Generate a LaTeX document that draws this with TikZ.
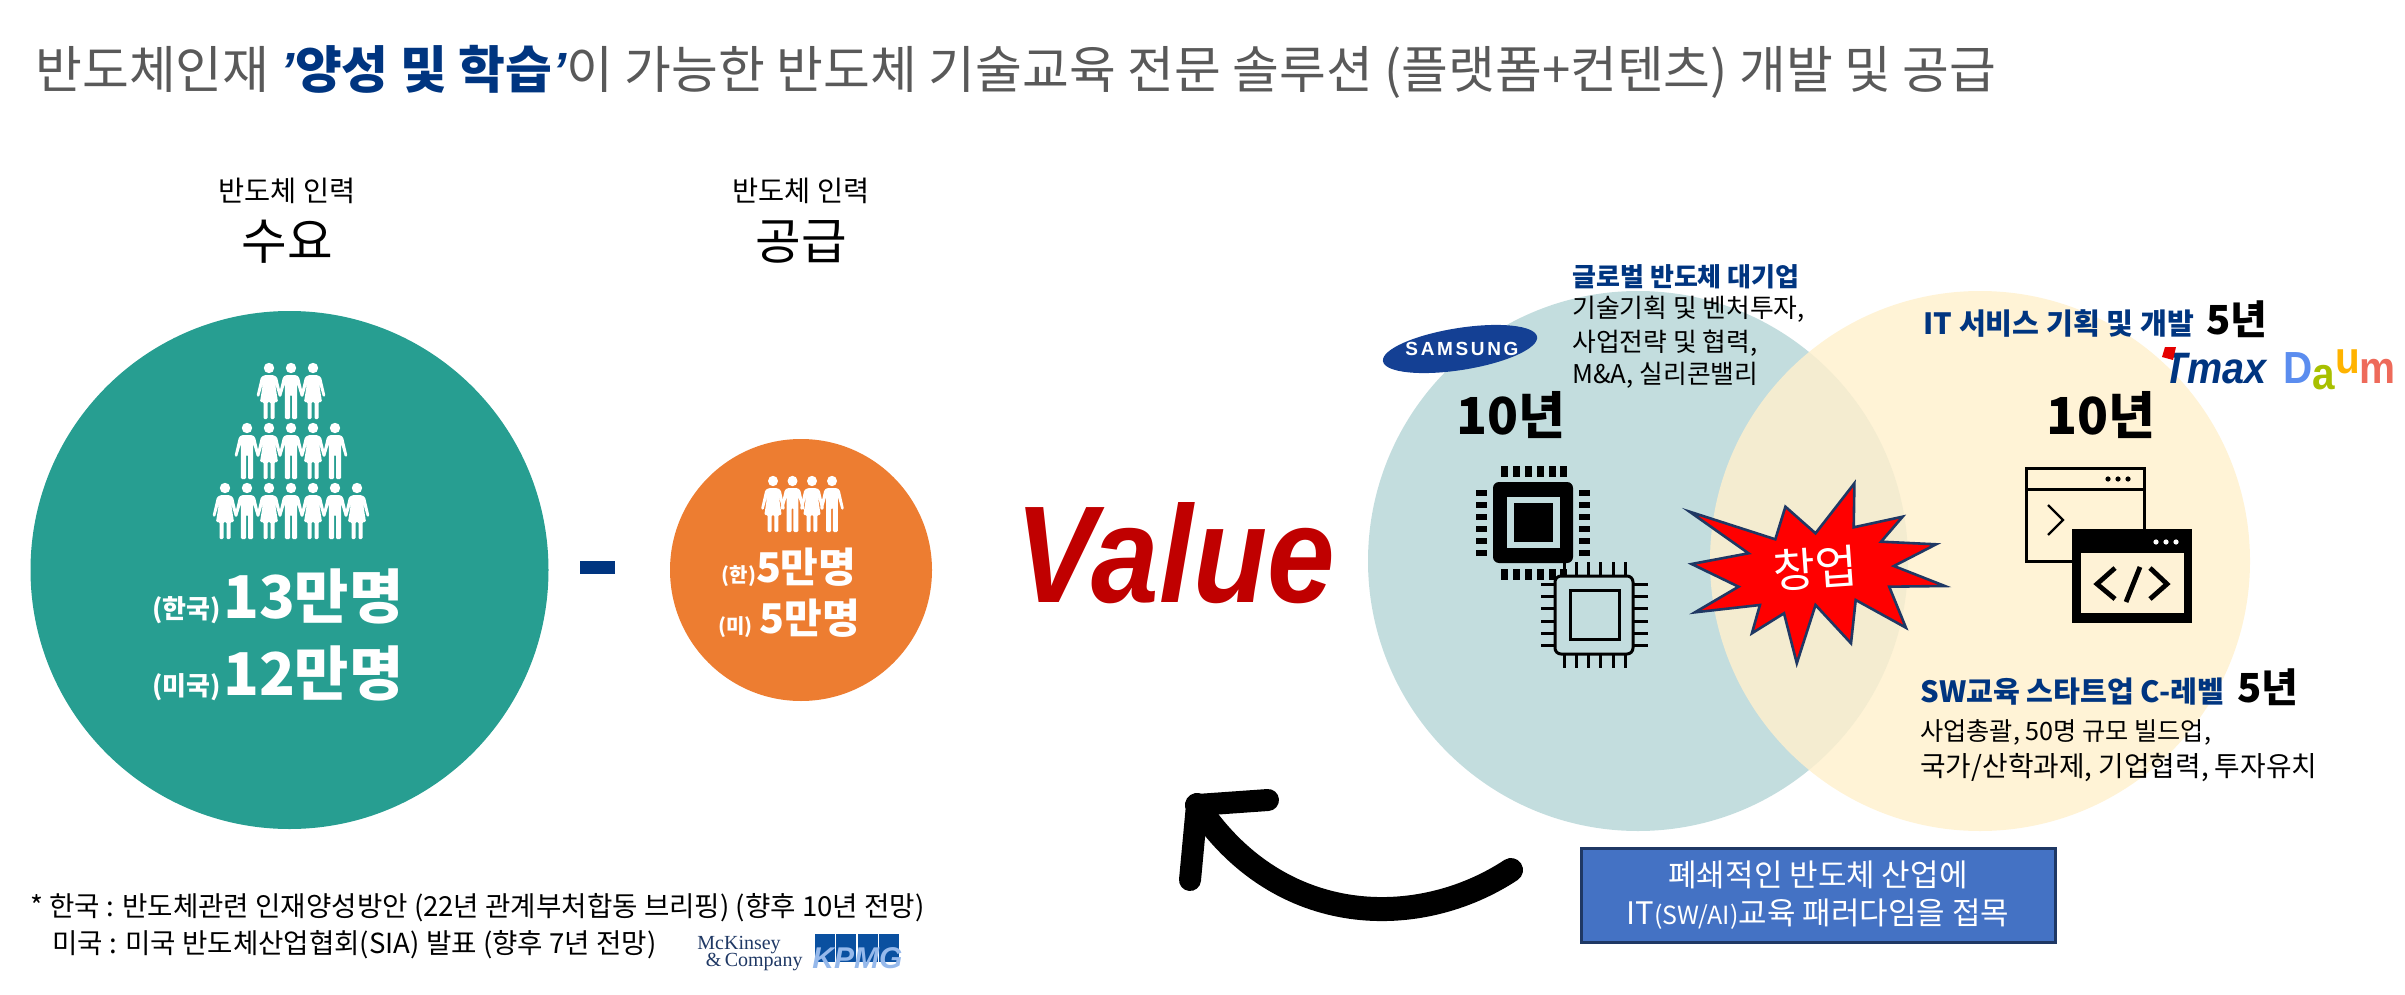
\documentclass[tikz,border=0pt]{standalone}
\usepackage{fontspec}
\setmainfont{Noto Sans CJK KR}
\newfontfamily\latinfont{Liberation Sans}
\newfontfamily\paperfont{Liberation Serif}
\newfontfamily\logofont[LetterSpace=14]{Liberation Sans}
\usetikzlibrary{calc}
\definecolor{greycolor}{RGB}{89,89,89}
\definecolor{navycolor}{RGB}{0,53,128}
\definecolor{tealcolor}{RGB}{39,158,145}
\definecolor{orangecolor}{RGB}{237,125,49}
\definecolor{lightteal}{RGB}{195,221,222}
\definecolor{lightyellow}{RGB}{255,240,205}
\definecolor{chipyellow}{RGB}{254,242,214}
\definecolor{valuecolor}{RGB}{192,0,0}
\definecolor{boxcolor}{RGB}{68,114,196}
\definecolor{boxborder}{RGB}{31,56,100}
\definecolor{samsungblue}{RGB}{20,64,148}
\definecolor{kpmgblue}{RGB}{10,80,160}
\definecolor{kpmglight}{RGB}{150,185,235}
\newcommand{\fs}[1]{\fontsize{#1}{#1}\selectfont}
\tikzset{
  man/.pic={
    \fill[white] (0,0) circle (5.2);
    \fill[white,rounded corners=0.6pt] (-5,7) -- (5,7) -- (8,9) -- (12.5,28) -- (10,29) -- (6.2,16) -- (6,51) -- (1,51) -- (1,27) -- (-1,27) -- (-1,51) -- (-6,51) -- (-6.2,16) -- (-10,29) -- (-12.5,28) -- (-8,9) -- cycle;
  },
  woman/.pic={
    \fill[white] (0,0) circle (5.2);
    \fill[white,rounded corners=0.6pt] (-4,7) -- (4,7) -- (8,9) -- (12.5,28) -- (10,29) -- (6,15) -- (9,34) -- (5.5,34) -- (5.5,51) -- (1.5,51) -- (1.5,34) -- (-1.5,34) -- (-1.5,51) -- (-5.5,51) -- (-5.5,34) -- (-9,34) -- (-6,15) -- (-10,29) -- (-12.5,28) -- (-8,9) -- cycle;
  },
  bluetext/.style={anchor=base west,text=navycolor,font=\fs{14.6}\bfseries,inner sep=0pt},
  plaintext/.style={anchor=base west,text=black,font=\fs{12.9},inner sep=0pt},
  yeartext/.style={anchor=base west,text=black,font=\fs{20}\bfseries,inner sep=0pt},
  bigyear/.style={text=black,font=\fs{25.5}\bfseries,inner sep=0pt},
  headsmall/.style={text=black,font=\fs{14.2},inner sep=0pt},
  headbig/.style={text=black,font=\fs{24.8},inner sep=0pt},
  chipline/.style={draw=black,line width=1.5pt},
}
\begin{document}
\begin{tikzpicture}[x=0.5pt,y=-0.5pt]
\useasboundingbox (0,0) rectangle (2405,995);

\node[anchor=base west,inner sep=0pt,text=greycolor,font=\fs{25.45}] (title) at (35,89) {반도체인재 {\bfseries\color{navycolor}{\latinfont\itshape ’}양성 및 학습{\latinfont\itshape ’}}이 가능한 반도체 기술교육 전문 솔루션 (플랫폼+컨텐츠) 개발 및 공급};

% left side
\node[headsmall] (demandsub) at (287,191) {반도체 인력};
\node[headbig] (demand) at (287,242) {수요};
\node[headsmall] (supplysub) at (801,191) {반도체 인력};
\node[headbig] (supply) at (801,242) {공급};

\fill[tealcolor] (289.5,570) circle (259);
\fill[orangecolor] (801,570) circle (131);
\node[fill=navycolor,minimum width=17.5pt,minimum height=6.5pt,inner sep=0pt] (minus) at (597,567) {};

\foreach \x/\kind in {269/woman,291/man,313/woman}
  \pic at (\x,368) {\kind};
\foreach \x/\kind in {247/man,269/woman,291/man,313/woman,335/man}
  \pic at (\x,428) {\kind};
\foreach \x/\kind in {225/woman,247/man,269/woman,291/man,313/woman,335/man,357/woman}
  \pic at (\x,488) {\kind};
\foreach \x/\kind in {773/woman,792.5/man,812/woman,832/man}
  \pic[xscale=0.96] at (\x,481) {\kind};

\begin{scope}[every node/.style={text=white,inner sep=0pt,anchor=base,font=\fs{29.5}\bfseries}]
\node (kr) at (278,618) {{\fs{13}(한국)}\kern1pt 13만명};
\node (us) at (278,695) {{\fs{13}(미국)}\kern1pt 12만명};
\node[font=\fs{20.5}\bfseries] (krs) at (789,582) {{\fs{10}(한)}5만명};
\node[font=\fs{20.5}\bfseries] (uss) at (789,633) {{\fs{10}(미)}\,5만명};
\end{scope}

\node[inner sep=0pt,text=valuecolor,font=\fs{69}\latinfont\bfseries\itshape,xscale=0.88,transform shape] (value) at (1175,553) {Value};

% venn
\fill[lightteal] (1638,561) circle (270);
\fill[lightyellow,opacity=0.82] (1980,561) circle (270);

\node[bluetext,font=\fs{13}\bfseries] (bigco) at (1572,286) {글로벌 반도체 대기업};
\node[plaintext] (bigco1) at (1572,317) {기술기획 및 벤처투자,};
\node[plaintext] (bigco2) at (1572,351) {사업전략 및 협력,};
\node[plaintext] (bigco3) at (1572,383) {M\&A, 실리콘밸리};

\node[bluetext] (itsvc) at (1923,334) {IT 서비스 기획 및 개발};
\node[yeartext] (itsvcyr) at (2206,334) {5년};
\node[bluetext] (swedu) at (1920,702) {SW교육 스타트업 C-레벨};
\node[yeartext] (sweduyr) at (2237,702) {5년};
\node[plaintext,font=\fs{12.6}] (swedu1) at (1920,740) {사업총괄, 50명 규모 빌드업,};
\node[plaintext,font=\fs{13.9}] (swedu2) at (1920,776) {국가/산학과제, 기업협력, 투자유치};

\node[bigyear] (yearl) at (1511,415) {10년};
\node[bigyear] (yearr) at (2101,415) {10년};

% logos
\fill[samsungblue,rotate around={9:(1460,349)}] (1460,349) ellipse (78 and 21);
\node[text=white,inner sep=0pt,font=\fs{9.5}\logofont\bfseries] (samsung) at (1462,349) {SAMSUNG};

\node[anchor=base west,inner sep=0pt,text=navycolor,font=\fs{22}\latinfont\bfseries\itshape,xscale=0.9,transform shape] (tmax) at (2163,383) {Tmax};
\fill[red!90!black] (2165,347) -- (2176,347) -- (2173,360) -- (2162,357) -- cycle;
\node[anchor=base west,inner sep=0pt,font=\fs{22.5}\latinfont\bfseries,xscale=0.9,transform shape] (daum) at (2283,383) {\color[RGB]{91,141,239}D\raisebox{-3pt}{\color[RGB]{168,192,0}a}\raisebox{5pt}{\color[RGB]{255,179,0}u}\color[RGB]{238,106,90}m};

% filled chip
\foreach \x in {1504,1516,1528,1540,1552,1563} {
  \fill[black] (\x-3.5,466) rectangle (\x+3.5,477);
  \fill[black] (\x-3.5,569) rectangle (\x+3.5,580);
}
\foreach \y in {493,505,517,529,541,553} {
  \fill[black] (1476,\y-3) rectangle (1487,\y+3);
  \fill[black] (1579,\y-3) rectangle (1590,\y+3);
}
\fill[black,rounded corners=3pt] (1493,482) rectangle (1573,563);
\fill[lightteal] (1507,497) rectangle (1560,548);
\fill[black] (1514,503) rectangle (1553,542);

% outline chip
\foreach \x in {1564,1576,1588,1600,1613,1625} {
  \draw[chipline] (\x,562) -- (\x,576);
  \draw[chipline] (\x,654) -- (\x,668);
}
\foreach \y in {584,596,608,621,633,645} {
  \draw[chipline] (1541,\y) -- (1555,\y);
  \draw[chipline] (1633,\y) -- (1648,\y);
}
\draw[chipline,fill=lightteal,rounded corners=3pt] (1555,576) rectangle (1633,654);
\draw[chipline] (1570,590) rectangle (1619,639);

% windows
\draw[chipline] (2026,468) rectangle (2144,561);
\draw[chipline] (2026,489) -- (2144,489);
\foreach \x in {2108,2118,2128}
  \fill[black] (\x,479) circle (2.6);
\draw[chipline,line width=1.2pt] (2048,505) -- (2063,520) -- (2048,535);
\fill[black] (2072,529) rectangle (2192,623);
\fill[chipyellow] (2081,553) rectangle (2184,613);
\foreach \x in {2156,2166,2176}
  \fill[white] (\x,542) circle (2.6);
\begin{scope}[line width=2.4pt]
\draw (2115,568) -- (2097,584) -- (2115,599);
\draw (2150,568) -- (2167,584) -- (2150,599);
\draw (2140,567) -- (2126,602);
\end{scope}

% burst
\draw[fill=red,draw=boxborder,line width=1.3pt,miter limit=10]
  (1854.4,483.3) -- (1853.7,527.3) -- (1902.6,516.7) -- (1881.1,541.7) -- (1936.1,544.3) -- (1893.9,566) -- (1944.8,586) -- (1889.2,586.7) -- (1905.9,627.7) -- (1855.7,600) -- (1851,643.3) -- (1815.5,605) -- (1796.8,663.3) -- (1784,613.3) -- (1751.9,633.3) -- (1759.9,605) -- (1695,612.3) -- (1738.5,586.7) -- (1691.6,564) -- (1748.5,553.3) -- (1689.6,511.7) -- (1775.3,539.3) -- (1785.4,506.7) -- (1815.5,533.3) -- cycle;
\node[text=white,inner sep=0pt,font=\fs{23},rotate=4] (startup) at (1815,568) {창업};

% box and arrow
\node[fill=boxcolor,draw=boxborder,line width=1.5pt,minimum width=237pt,minimum height=47pt,inner sep=0pt,text=white,align=center,font=\fontsize{15.5}{19}\selectfont] (paradigm) at (1818,895) {폐쇄적인 반도체 산업에\\IT{\fs{12.5}(SW/AI)}교육 패러다임을 접목};

\coordinate (tail) at (1511,870);
\coordinate (tip) at (1197,805);
\coordinate (armA) at (1268,800);
\coordinate (armB) at (1190,880);
\draw[line width=12pt,line cap=round] (tail) .. controls (1420,930) and (1280,930) .. (tip);
\draw[line width=11pt,line cap=round,line join=round] (armA) -- (tip) -- (armB);

% footnote
\node[anchor=base west,inner sep=0pt,font=\fs{13.8}] (fn1) at (30,916) {* 한국 : 반도체관련 인재양성방안 (22년 관계부처합동 브리핑) (향후 10년 전망)};
\node[anchor=base west,inner sep=0pt,font=\fs{13.8}] (fn2) at (52,953) {미국 : 미국 반도체산업협회(SIA) 발표 (향후 7년 전망)};
\node[anchor=base west,inner sep=0pt,text=boxborder,font=\fs{10}\paperfont] (mck1) at (697,949) {McKinsey};
\node[anchor=base east,inner sep=0pt,text=boxborder,font=\fs{10}\paperfont] (mck2) at (803,966) {\&\,Company};
\foreach \x in {815,836,858,879}
  \fill[kpmgblue] (\x,934) rectangle ++(20,28);
\node[anchor=base west,inner sep=0pt,text=kpmglight,font=\fs{15}\latinfont\bfseries\itshape] (kpmg) at (812,968) {KPMG};
\end{tikzpicture}
\end{document}
